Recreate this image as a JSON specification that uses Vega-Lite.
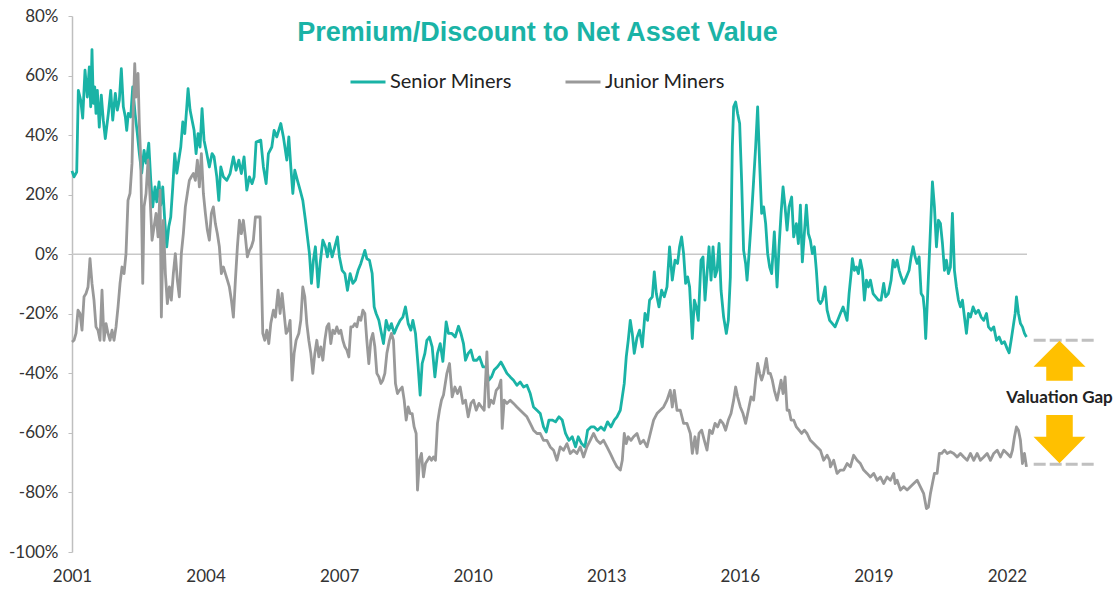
{
"$schema": "https://vega.github.io/schema/vega-lite/v6.json",
"width": 955, "height": 536,
"autosize": {"type": "none"},
"padding": {"left": 72, "top": 16, "right": 90, "bottom": 38},
"background": "white",
"config": {"view": {"stroke": null}, "font": "Lato"},
"title": {"text": "Premium/Discount to Net Asset Value", "font": "Liberation Sans", "fontSize": 27, "fontWeight": "bold", "color": "#1AB3A6", "anchor": "middle", "frame": "group", "dx": -12, "offset": -40},
"datasets": {
"senior": [
{"year":2001.0,"value":28},{"year":2001.045,"value":26},{"year":2001.106,"value":27.6},{"year":2001.142,"value":55},{"year":2001.196,"value":51.7},{"year":2001.24,"value":45.7},{"year":2001.292,"value":61.8},{"year":2001.344,"value":52.8},{"year":2001.389,"value":62.9},{"year":2001.42,"value":49.5},{"year":2001.449,"value":68.7},{"year":2001.479,"value":50.7},{"year":2001.51,"value":56.2},{"year":2001.539,"value":47.3},{"year":2001.569,"value":55},{"year":2001.613,"value":42.7},{"year":2001.658,"value":53.4},{"year":2001.703,"value":45},{"year":2001.748,"value":38.8},{"year":2001.816,"value":47.2},{"year":2001.87,"value":55},{"year":2001.915,"value":45},{"year":2001.973,"value":54},{"year":2002.018,"value":48.4},{"year":2002.063,"value":51.7},{"year":2002.108,"value":62.3},{"year":2002.153,"value":49.5},{"year":2002.198,"value":46.1},{"year":2002.229,"value":41.6},{"year":2002.265,"value":47.3},{"year":2002.319,"value":46.1},{"year":2002.364,"value":56.2},{"year":2002.416,"value":47.3},{"year":2002.467,"value":40.6},{"year":2002.512,"value":33.9},{"year":2002.566,"value":27.2},{"year":2002.618,"value":34.9},{"year":2002.663,"value":30.6},{"year":2002.724,"value":37.3},{"year":2002.769,"value":24.8},{"year":2002.813,"value":15.9},{"year":2002.865,"value":22.6},{"year":2002.903,"value":17.6},{"year":2002.955,"value":24.3},{"year":2002.993,"value":16.5},{"year":2003.038,"value":22.6},{"year":2003.083,"value":11.4},{"year":2003.128,"value":2.5},{"year":2003.173,"value":9.2},{"year":2003.218,"value":12.5},{"year":2003.263,"value":22.6},{"year":2003.308,"value":33.8},{"year":2003.353,"value":27.2},{"year":2003.398,"value":31.6},{"year":2003.443,"value":36},{"year":2003.488,"value":44.4},{"year":2003.533,"value":40.5},{"year":2003.578,"value":49.5},{"year":2003.607,"value":55.6},{"year":2003.652,"value":48.4},{"year":2003.697,"value":45},{"year":2003.742,"value":41.6},{"year":2003.787,"value":33.8},{"year":2003.831,"value":40.5},{"year":2003.876,"value":36},{"year":2003.921,"value":48.9},{"year":2003.966,"value":38.3},{"year":2004.027,"value":33.8},{"year":2004.085,"value":29.3},{"year":2004.146,"value":33.8},{"year":2004.191,"value":32.7},{"year":2004.252,"value":26},{"year":2004.297,"value":18.1},{"year":2004.342,"value":29.3},{"year":2004.4,"value":26},{"year":2004.476,"value":24.8},{"year":2004.551,"value":27.1},{"year":2004.625,"value":32.7},{"year":2004.685,"value":28.2},{"year":2004.746,"value":31.6},{"year":2004.804,"value":27.1},{"year":2004.865,"value":32.7},{"year":2004.926,"value":21.5},{"year":2004.984,"value":26},{"year":2005.045,"value":23.7},{"year":2005.09,"value":26},{"year":2005.135,"value":37.7},{"year":2005.24,"value":38.3},{"year":2005.299,"value":29.3},{"year":2005.36,"value":23.7},{"year":2005.411,"value":33.8},{"year":2005.488,"value":36},{"year":2005.539,"value":41.6},{"year":2005.6,"value":39.4},{"year":2005.69,"value":43.9},{"year":2005.748,"value":39.4},{"year":2005.825,"value":31.6},{"year":2005.87,"value":39.4},{"year":2005.915,"value":29.3},{"year":2005.96,"value":20.4},{"year":2006.004,"value":28.2},{"year":2006.063,"value":24.8},{"year":2006.124,"value":21.5},{"year":2006.184,"value":18.1},{"year":2006.243,"value":11.4},{"year":2006.288,"value":5.8},{"year":2006.333,"value":0.2},{"year":2006.378,"value":-9.8},{"year":2006.422,"value":-2},{"year":2006.467,"value":2.5},{"year":2006.528,"value":-11},{"year":2006.573,"value":-3.1},{"year":2006.634,"value":4.7},{"year":2006.692,"value":2.5},{"year":2006.737,"value":-0.9},{"year":2006.782,"value":3.6},{"year":2006.843,"value":-0.9},{"year":2006.903,"value":2.5},{"year":2006.962,"value":5.8},{"year":2007.007,"value":-0.9},{"year":2007.067,"value":-5.4},{"year":2007.128,"value":-6.5},{"year":2007.187,"value":-12.1},{"year":2007.247,"value":-6.5},{"year":2007.308,"value":-9.8},{"year":2007.366,"value":-8.7},{"year":2007.427,"value":-5.4},{"year":2007.488,"value":-3.1},{"year":2007.533,"value":-0.9},{"year":2007.578,"value":1.3},{"year":2007.622,"value":-1.5},{"year":2007.681,"value":-2},{"year":2007.742,"value":-6.5},{"year":2007.787,"value":-17.7},{"year":2007.831,"value":-19.9},{"year":2007.892,"value":-22.2},{"year":2007.951,"value":-26.6},{"year":2007.996,"value":-30},{"year":2008.056,"value":-22.2},{"year":2008.117,"value":-25.5},{"year":2008.175,"value":-23.3},{"year":2008.236,"value":-26.6},{"year":2008.297,"value":-24.4},{"year":2008.371,"value":-22.2},{"year":2008.431,"value":-21.1},{"year":2008.49,"value":-17.7},{"year":2008.551,"value":-23.3},{"year":2008.611,"value":-25.5},{"year":2008.656,"value":-22.2},{"year":2008.715,"value":-26.6},{"year":2008.775,"value":-37.8},{"year":2008.82,"value":-47.3},{"year":2008.865,"value":-36.7},{"year":2008.926,"value":-33.3},{"year":2008.971,"value":-28.9},{"year":2009.029,"value":-27.8},{"year":2009.09,"value":-31.1},{"year":2009.151,"value":-41.2},{"year":2009.209,"value":-33.3},{"year":2009.27,"value":-30},{"year":2009.33,"value":-36},{"year":2009.404,"value":-22.7},{"year":2009.456,"value":-26.6},{"year":2009.533,"value":-26.6},{"year":2009.607,"value":-27.8},{"year":2009.681,"value":-24.2},{"year":2009.735,"value":-26.6},{"year":2009.793,"value":-30},{"year":2009.838,"value":-35.6},{"year":2009.899,"value":-33.3},{"year":2009.96,"value":-32.2},{"year":2010.018,"value":-35.6},{"year":2010.094,"value":-35.6},{"year":2010.153,"value":-34.5},{"year":2010.229,"value":-37.8},{"year":2010.303,"value":-37.8},{"year":2010.364,"value":-42.3},{"year":2010.422,"value":-41.2},{"year":2010.483,"value":-38.9},{"year":2010.557,"value":-37.8},{"year":2010.634,"value":-36.2},{"year":2010.692,"value":-37.8},{"year":2010.769,"value":-40},{"year":2010.843,"value":-41.2},{"year":2010.917,"value":-42.3},{"year":2010.993,"value":-44},{"year":2011.067,"value":-42.9},{"year":2011.142,"value":-44.6},{"year":2011.218,"value":-44},{"year":2011.292,"value":-46.8},{"year":2011.366,"value":-51.3},{"year":2011.443,"value":-52.4},{"year":2011.517,"value":-53.5},{"year":2011.591,"value":-58},{"year":2011.652,"value":-59.7},{"year":2011.712,"value":-55.7},{"year":2011.787,"value":-55.7},{"year":2011.861,"value":-56.3},{"year":2011.937,"value":-54.6},{"year":2012.011,"value":-55.7},{"year":2012.085,"value":-60.2},{"year":2012.162,"value":-62.5},{"year":2012.236,"value":-61.3},{"year":2012.31,"value":-64.7},{"year":2012.371,"value":-61.3},{"year":2012.445,"value":-63.6},{"year":2012.521,"value":-64.7},{"year":2012.58,"value":-59.1},{"year":2012.656,"value":-58},{"year":2012.73,"value":-58},{"year":2012.804,"value":-59.1},{"year":2012.881,"value":-58},{"year":2012.955,"value":-59.1},{"year":2013.029,"value":-56.3},{"year":2013.106,"value":-58},{"year":2013.18,"value":-55.7},{"year":2013.24,"value":-54.6},{"year":2013.315,"value":-52.4},{"year":2013.36,"value":-47.9},{"year":2013.404,"value":-43.4},{"year":2013.449,"value":-34.5},{"year":2013.494,"value":-28.9},{"year":2013.539,"value":-22.2},{"year":2013.584,"value":-26.6},{"year":2013.629,"value":-33.3},{"year":2013.69,"value":-28},{"year":2013.748,"value":-25.5},{"year":2013.809,"value":-31.1},{"year":2013.87,"value":-19.9},{"year":2013.928,"value":-22.2},{"year":2013.973,"value":-15.4},{"year":2014.034,"value":-14.3},{"year":2014.079,"value":-5.9},{"year":2014.124,"value":-13.2},{"year":2014.184,"value":-17.7},{"year":2014.243,"value":-12.1},{"year":2014.303,"value":-14.3},{"year":2014.364,"value":-11},{"year":2014.422,"value":2.5},{"year":2014.483,"value":-8.7},{"year":2014.544,"value":-2},{"year":2014.602,"value":-3.1},{"year":2014.647,"value":2.5},{"year":2014.692,"value":5.8},{"year":2014.737,"value":0.2},{"year":2014.782,"value":-9.8},{"year":2014.827,"value":-7.6},{"year":2014.872,"value":-11},{"year":2014.933,"value":-28.3},{"year":2014.978,"value":-15.4},{"year":2015.022,"value":-17.7},{"year":2015.067,"value":-22.2},{"year":2015.128,"value":-2},{"year":2015.173,"value":-0.9},{"year":2015.218,"value":-15.4},{"year":2015.263,"value":-6.5},{"year":2015.308,"value":2.5},{"year":2015.353,"value":-8.7},{"year":2015.398,"value":2.5},{"year":2015.443,"value":-7.6},{"year":2015.488,"value":-5.4},{"year":2015.533,"value":3.6},{"year":2015.578,"value":-12.1},{"year":2015.636,"value":-21.1},{"year":2015.697,"value":-26.6},{"year":2015.742,"value":-22.2},{"year":2015.787,"value":-7.6},{"year":2015.831,"value":36},{"year":2015.861,"value":49.5},{"year":2015.906,"value":51.1},{"year":2015.951,"value":47.2},{"year":2015.996,"value":43.9},{"year":2016.04,"value":24.8},{"year":2016.085,"value":1.3},{"year":2016.13,"value":-3.1},{"year":2016.162,"value":-8.7},{"year":2016.207,"value":0.2},{"year":2016.252,"value":10.3},{"year":2016.31,"value":24.8},{"year":2016.355,"value":36},{"year":2016.4,"value":49.5},{"year":2016.445,"value":30.5},{"year":2016.49,"value":13.7},{"year":2016.535,"value":15.9},{"year":2016.58,"value":10.3},{"year":2016.625,"value":0.2},{"year":2016.67,"value":-4.3},{"year":2016.715,"value":-6.5},{"year":2016.775,"value":7.5},{"year":2016.836,"value":-11},{"year":2016.881,"value":2.5},{"year":2016.926,"value":13.7},{"year":2016.971,"value":22.6},{"year":2017.016,"value":15.9},{"year":2017.061,"value":8.1},{"year":2017.106,"value":15.9},{"year":2017.164,"value":19.2},{"year":2017.209,"value":5.8},{"year":2017.27,"value":10.3},{"year":2017.315,"value":3.6},{"year":2017.36,"value":16.5},{"year":2017.404,"value":-2.6},{"year":2017.449,"value":6.9},{"year":2017.494,"value":16.5},{"year":2017.539,"value":6.9},{"year":2017.584,"value":4.7},{"year":2017.629,"value":0.2},{"year":2017.674,"value":2.5},{"year":2017.719,"value":-5.4},{"year":2017.764,"value":-15.4},{"year":2017.809,"value":-16.6},{"year":2017.854,"value":-15.4},{"year":2017.915,"value":-11},{"year":2017.96,"value":-18.8},{"year":2018.017,"value":-22.2},{"year":2018.079,"value":-23.3},{"year":2018.139,"value":-24.4},{"year":2018.198,"value":-22.2},{"year":2018.258,"value":-19.9},{"year":2018.319,"value":-17.7},{"year":2018.364,"value":-19.9},{"year":2018.409,"value":-22.2},{"year":2018.454,"value":-13.2},{"year":2018.499,"value":-6.5},{"year":2018.528,"value":-1.5},{"year":2018.573,"value":-5.4},{"year":2018.618,"value":-4.3},{"year":2018.663,"value":-6.5},{"year":2018.708,"value":-2},{"year":2018.753,"value":-5.4},{"year":2018.798,"value":-15.4},{"year":2018.843,"value":-8.7},{"year":2018.888,"value":-11},{"year":2018.933,"value":-8.7},{"year":2018.993,"value":-13.2},{"year":2019.052,"value":-14.3},{"year":2019.112,"value":-15.4},{"year":2019.173,"value":-15.4},{"year":2019.231,"value":-9.8},{"year":2019.276,"value":-14.3},{"year":2019.337,"value":-13.2},{"year":2019.398,"value":-8.7},{"year":2019.443,"value":-2},{"year":2019.488,"value":-4.3},{"year":2019.533,"value":-2},{"year":2019.578,"value":-5.4},{"year":2019.622,"value":-7.6},{"year":2019.681,"value":-9.8},{"year":2019.742,"value":-7.6},{"year":2019.802,"value":-5.4},{"year":2019.847,"value":-0.9},{"year":2019.892,"value":2.5},{"year":2019.937,"value":-0.9},{"year":2019.982,"value":-3.1},{"year":2020.027,"value":-0.9},{"year":2020.072,"value":-13.2},{"year":2020.117,"value":-14.3},{"year":2020.146,"value":-18.8},{"year":2020.175,"value":-28.3},{"year":2020.22,"value":-13.2},{"year":2020.265,"value":2.5},{"year":2020.326,"value":24.3},{"year":2020.371,"value":15.9},{"year":2020.416,"value":2.5},{"year":2020.461,"value":11.4},{"year":2020.506,"value":10.3},{"year":2020.551,"value":3.6},{"year":2020.596,"value":-5.4},{"year":2020.64,"value":-2},{"year":2020.685,"value":-6.5},{"year":2020.73,"value":-4.3},{"year":2020.775,"value":13.7},{"year":2020.82,"value":-5.4},{"year":2020.865,"value":-11},{"year":2020.91,"value":-15.4},{"year":2020.955,"value":-17.7},{"year":2021.0,"value":-15.4},{"year":2021.045,"value":-21.1},{"year":2021.09,"value":-26.6},{"year":2021.135,"value":-19.9},{"year":2021.18,"value":-21.1},{"year":2021.24,"value":-17.7},{"year":2021.299,"value":-19.9},{"year":2021.36,"value":-18.8},{"year":2021.42,"value":-21.1},{"year":2021.479,"value":-22.2},{"year":2021.54,"value":-19.9},{"year":2021.584,"value":-24.4},{"year":2021.645,"value":-25.5},{"year":2021.703,"value":-24.4},{"year":2021.764,"value":-28.9},{"year":2021.825,"value":-27.8},{"year":2021.883,"value":-30},{"year":2021.944,"value":-29.4},{"year":2022.004,"value":-31.7},{"year":2022.049,"value":-33.1},{"year":2022.094,"value":-28.9},{"year":2022.139,"value":-24.4},{"year":2022.184,"value":-19.9},{"year":2022.213,"value":-14.3},{"year":2022.258,"value":-19.9},{"year":2022.303,"value":-23.3},{"year":2022.348,"value":-24.4},{"year":2022.393,"value":-26.6},{"year":2022.438,"value":-27.8}
],
"junior": [
{"year":2001.0,"value":-29.5},{"year":2001.045,"value":-28.9},{"year":2001.09,"value":-26.6},{"year":2001.135,"value":-18.8},{"year":2001.18,"value":-19.9},{"year":2001.225,"value":-25.5},{"year":2001.27,"value":-14.3},{"year":2001.315,"value":-13.2},{"year":2001.36,"value":-11},{"year":2001.404,"value":-1.5},{"year":2001.449,"value":-9.8},{"year":2001.494,"value":-15.4},{"year":2001.539,"value":-24.4},{"year":2001.584,"value":-25.5},{"year":2001.629,"value":-28.9},{"year":2001.674,"value":-12.1},{"year":2001.719,"value":-28.9},{"year":2001.764,"value":-23.3},{"year":2001.809,"value":-26.6},{"year":2001.854,"value":-28.9},{"year":2001.899,"value":-25.5},{"year":2001.944,"value":-28.9},{"year":2001.989,"value":-24.4},{"year":2002.034,"value":-17.7},{"year":2002.079,"value":-9.8},{"year":2002.124,"value":-4.3},{"year":2002.169,"value":-6.5},{"year":2002.213,"value":0.2},{"year":2002.258,"value":18.1},{"year":2002.303,"value":20.4},{"year":2002.348,"value":30.5},{"year":2002.378,"value":49.5},{"year":2002.409,"value":64},{"year":2002.438,"value":52.8},{"year":2002.483,"value":60.7},{"year":2002.512,"value":43.9},{"year":2002.544,"value":31.6},{"year":2002.589,"value":-9.8},{"year":2002.618,"value":15.9},{"year":2002.663,"value":20.4},{"year":2002.708,"value":31.6},{"year":2002.753,"value":19.2},{"year":2002.798,"value":4.7},{"year":2002.843,"value":9.2},{"year":2002.888,"value":13.7},{"year":2002.933,"value":5.8},{"year":2002.978,"value":21.5},{"year":2003.007,"value":-21.1},{"year":2003.052,"value":11.4},{"year":2003.097,"value":-6.5},{"year":2003.142,"value":-16.6},{"year":2003.187,"value":-11},{"year":2003.231,"value":-15.4},{"year":2003.276,"value":-6.5},{"year":2003.321,"value":0.2},{"year":2003.366,"value":-8.7},{"year":2003.411,"value":-14.3},{"year":2003.456,"value":0.2},{"year":2003.501,"value":6.9},{"year":2003.546,"value":15.9},{"year":2003.591,"value":20.4},{"year":2003.636,"value":24.8},{"year":2003.681,"value":26},{"year":2003.726,"value":27.1},{"year":2003.771,"value":24.8},{"year":2003.816,"value":31.6},{"year":2003.861,"value":22.6},{"year":2003.906,"value":33.8},{"year":2003.951,"value":20.4},{"year":2003.996,"value":13.7},{"year":2004.04,"value":8.1},{"year":2004.085,"value":4.7},{"year":2004.13,"value":13.7},{"year":2004.175,"value":15.9},{"year":2004.22,"value":10.3},{"year":2004.265,"value":6.9},{"year":2004.31,"value":2.5},{"year":2004.355,"value":-6.5},{"year":2004.4,"value":-4.3},{"year":2004.445,"value":-6.5},{"year":2004.49,"value":-8.7},{"year":2004.535,"value":-11},{"year":2004.58,"value":-15.4},{"year":2004.625,"value":-21.1},{"year":2004.67,"value":-8.7},{"year":2004.715,"value":2.5},{"year":2004.76,"value":11.4},{"year":2004.804,"value":6.9},{"year":2004.849,"value":11.4},{"year":2004.894,"value":5.8},{"year":2004.939,"value":-0.9},{"year":2004.984,"value":1.3},{"year":2005.029,"value":2.5},{"year":2005.074,"value":4.7},{"year":2005.119,"value":12.5},{"year":2005.18,"value":12.5},{"year":2005.225,"value":12.5},{"year":2005.254,"value":-6.5},{"year":2005.285,"value":-26.6},{"year":2005.33,"value":-28.9},{"year":2005.375,"value":-25.5},{"year":2005.42,"value":-30},{"year":2005.465,"value":-23.3},{"year":2005.524,"value":-18.8},{"year":2005.569,"value":-21.1},{"year":2005.629,"value":-12.1},{"year":2005.674,"value":-19.9},{"year":2005.719,"value":-13.2},{"year":2005.764,"value":-19.9},{"year":2005.809,"value":-26.6},{"year":2005.854,"value":-25.5},{"year":2005.899,"value":-22.2},{"year":2005.944,"value":-42.3},{"year":2005.989,"value":-33.3},{"year":2006.034,"value":-28.9},{"year":2006.094,"value":-26.6},{"year":2006.139,"value":-22.2},{"year":2006.184,"value":-11},{"year":2006.229,"value":-14.3},{"year":2006.274,"value":-23.3},{"year":2006.319,"value":-28.9},{"year":2006.364,"value":-33.3},{"year":2006.409,"value":-40},{"year":2006.454,"value":-33.3},{"year":2006.499,"value":-28.9},{"year":2006.544,"value":-34.5},{"year":2006.589,"value":-31.1},{"year":2006.634,"value":-35.6},{"year":2006.679,"value":-28.9},{"year":2006.724,"value":-24.4},{"year":2006.769,"value":-23.3},{"year":2006.813,"value":-30},{"year":2006.858,"value":-25.5},{"year":2006.903,"value":-26.6},{"year":2006.948,"value":-24.4},{"year":2006.993,"value":-26.6},{"year":2007.038,"value":-25.5},{"year":2007.083,"value":-28.9},{"year":2007.128,"value":-31.1},{"year":2007.173,"value":-32.2},{"year":2007.218,"value":-34.5},{"year":2007.263,"value":-24.4},{"year":2007.308,"value":-24.4},{"year":2007.353,"value":-23.3},{"year":2007.398,"value":-24.4},{"year":2007.443,"value":-21.1},{"year":2007.488,"value":-22.2},{"year":2007.533,"value":-18.8},{"year":2007.578,"value":-19.9},{"year":2007.622,"value":-28.9},{"year":2007.667,"value":-36.7},{"year":2007.712,"value":-28.9},{"year":2007.757,"value":-26.6},{"year":2007.802,"value":-31.1},{"year":2007.847,"value":-40},{"year":2007.892,"value":-41.2},{"year":2007.937,"value":-43.4},{"year":2007.982,"value":-42.3},{"year":2008.027,"value":-40},{"year":2008.072,"value":-33.3},{"year":2008.13,"value":-28.9},{"year":2008.175,"value":-26.6},{"year":2008.22,"value":-28.9},{"year":2008.265,"value":-43.4},{"year":2008.31,"value":-46.8},{"year":2008.355,"value":-45.7},{"year":2008.416,"value":-44.6},{"year":2008.461,"value":-49},{"year":2008.506,"value":-55.7},{"year":2008.551,"value":-51.3},{"year":2008.596,"value":-53.5},{"year":2008.64,"value":-53.5},{"year":2008.685,"value":-58},{"year":2008.73,"value":-60.2},{"year":2008.76,"value":-79.2},{"year":2008.804,"value":-69.2},{"year":2008.849,"value":-66.9},{"year":2008.894,"value":-74.8},{"year":2008.939,"value":-70.3},{"year":2008.984,"value":-69.2},{"year":2009.029,"value":-68.1},{"year":2009.074,"value":-69.2},{"year":2009.119,"value":-68.1},{"year":2009.164,"value":-69.2},{"year":2009.209,"value":-56.8},{"year":2009.254,"value":-52.4},{"year":2009.299,"value":-49},{"year":2009.344,"value":-47.3},{"year":2009.42,"value":-40},{"year":2009.479,"value":-36.7},{"year":2009.539,"value":-47.9},{"year":2009.6,"value":-44.6},{"year":2009.658,"value":-46.8},{"year":2009.719,"value":-44.6},{"year":2009.78,"value":-50.1},{"year":2009.838,"value":-49},{"year":2009.899,"value":-54.6},{"year":2009.96,"value":-50.1},{"year":2010.018,"value":-49},{"year":2010.079,"value":-52.4},{"year":2010.139,"value":-50.1},{"year":2010.198,"value":-51.3},{"year":2010.258,"value":-52.4},{"year":2010.319,"value":-32.8},{"year":2010.364,"value":-51.3},{"year":2010.409,"value":-49},{"year":2010.467,"value":-50.1},{"year":2010.528,"value":-45.7},{"year":2010.589,"value":-44.6},{"year":2010.634,"value":-42.3},{"year":2010.663,"value":-58.5},{"year":2010.708,"value":-49},{"year":2010.769,"value":-50.1},{"year":2010.843,"value":-49},{"year":2010.917,"value":-50.1},{"year":2010.993,"value":-51.3},{"year":2011.067,"value":-52.4},{"year":2011.142,"value":-53.5},{"year":2011.218,"value":-54.6},{"year":2011.292,"value":-56.8},{"year":2011.366,"value":-59.1},{"year":2011.443,"value":-60.2},{"year":2011.517,"value":-60.2},{"year":2011.591,"value":-62.5},{"year":2011.667,"value":-62.5},{"year":2011.742,"value":-64.7},{"year":2011.816,"value":-65.8},{"year":2011.892,"value":-69.2},{"year":2011.966,"value":-64.7},{"year":2012.041,"value":-65.8},{"year":2012.117,"value":-63.6},{"year":2012.191,"value":-66.9},{"year":2012.265,"value":-65.8},{"year":2012.342,"value":-66.9},{"year":2012.416,"value":-64.7},{"year":2012.49,"value":-68.1},{"year":2012.566,"value":-64.7},{"year":2012.64,"value":-62.5},{"year":2012.715,"value":-60.2},{"year":2012.791,"value":-62.5},{"year":2012.865,"value":-63.6},{"year":2012.939,"value":-62.5},{"year":2013.016,"value":-64.7},{"year":2013.09,"value":-66.9},{"year":2013.164,"value":-69.2},{"year":2013.24,"value":-71.4},{"year":2013.315,"value":-72.5},{"year":2013.36,"value":-69.2},{"year":2013.404,"value":-60.2},{"year":2013.449,"value":-63.6},{"year":2013.494,"value":-61.3},{"year":2013.555,"value":-62.5},{"year":2013.613,"value":-61.3},{"year":2013.69,"value":-60.2},{"year":2013.764,"value":-63.6},{"year":2013.838,"value":-62.5},{"year":2013.915,"value":-64.7},{"year":2013.989,"value":-60.2},{"year":2014.063,"value":-55.7},{"year":2014.139,"value":-53.5},{"year":2014.213,"value":-52.4},{"year":2014.288,"value":-51.3},{"year":2014.364,"value":-49},{"year":2014.438,"value":-45.7},{"year":2014.483,"value":-51.3},{"year":2014.528,"value":-45.7},{"year":2014.589,"value":-52.4},{"year":2014.663,"value":-52.4},{"year":2014.737,"value":-56.8},{"year":2014.813,"value":-56.8},{"year":2014.888,"value":-60.2},{"year":2014.933,"value":-66.9},{"year":2014.993,"value":-61.3},{"year":2015.038,"value":-66.9},{"year":2015.083,"value":-60.2},{"year":2015.142,"value":-59.1},{"year":2015.202,"value":-62.5},{"year":2015.263,"value":-65.8},{"year":2015.321,"value":-59.1},{"year":2015.382,"value":-60.2},{"year":2015.443,"value":-56.8},{"year":2015.501,"value":-58},{"year":2015.562,"value":-55.7},{"year":2015.622,"value":-56.8},{"year":2015.681,"value":-59.1},{"year":2015.742,"value":-55.7},{"year":2015.802,"value":-53.5},{"year":2015.861,"value":-49},{"year":2015.906,"value":-44.6},{"year":2015.951,"value":-47.9},{"year":2016.011,"value":-51.3},{"year":2016.072,"value":-53.5},{"year":2016.13,"value":-56.8},{"year":2016.191,"value":-52.4},{"year":2016.252,"value":-47.9},{"year":2016.31,"value":-49},{"year":2016.355,"value":-42.3},{"year":2016.4,"value":-36.7},{"year":2016.445,"value":-40},{"year":2016.49,"value":-42.3},{"year":2016.535,"value":-40},{"year":2016.596,"value":-35},{"year":2016.64,"value":-40},{"year":2016.685,"value":-40},{"year":2016.73,"value":-42.3},{"year":2016.775,"value":-45.7},{"year":2016.836,"value":-49},{"year":2016.881,"value":-45.7},{"year":2016.926,"value":-42.3},{"year":2016.971,"value":-46.8},{"year":2017.016,"value":-41.2},{"year":2017.061,"value":-52.4},{"year":2017.106,"value":-52.4},{"year":2017.151,"value":-55.7},{"year":2017.209,"value":-55.7},{"year":2017.27,"value":-58},{"year":2017.33,"value":-59.1},{"year":2017.389,"value":-60.2},{"year":2017.449,"value":-59.1},{"year":2017.51,"value":-60.2},{"year":2017.584,"value":-62.5},{"year":2017.658,"value":-63.6},{"year":2017.734,"value":-64.7},{"year":2017.809,"value":-65.8},{"year":2017.883,"value":-69.2},{"year":2017.96,"value":-67.5},{"year":2018.017,"value":-69.2},{"year":2018.034,"value":-71.4},{"year":2018.108,"value":-69.2},{"year":2018.184,"value":-73.6},{"year":2018.258,"value":-72.5},{"year":2018.333,"value":-72.5},{"year":2018.409,"value":-70.3},{"year":2018.483,"value":-71.4},{"year":2018.557,"value":-67.5},{"year":2018.634,"value":-69.2},{"year":2018.708,"value":-70.3},{"year":2018.782,"value":-72.5},{"year":2018.858,"value":-73.6},{"year":2018.933,"value":-74.8},{"year":2019.007,"value":-73.6},{"year":2019.083,"value":-75.9},{"year":2019.157,"value":-74.8},{"year":2019.231,"value":-77},{"year":2019.307,"value":-74.8},{"year":2019.382,"value":-75.9},{"year":2019.456,"value":-73.6},{"year":2019.488,"value":-77},{"year":2019.533,"value":-75.9},{"year":2019.607,"value":-79.2},{"year":2019.681,"value":-78.1},{"year":2019.757,"value":-79.2},{"year":2019.831,"value":-78.1},{"year":2019.906,"value":-77},{"year":2019.982,"value":-75.9},{"year":2020.056,"value":-78.1},{"year":2020.13,"value":-80.4},{"year":2020.191,"value":-85.4},{"year":2020.236,"value":-84.9},{"year":2020.281,"value":-80.4},{"year":2020.326,"value":-77},{"year":2020.371,"value":-73.6},{"year":2020.431,"value":-73.6},{"year":2020.481,"value":-66.9},{"year":2020.535,"value":-66.9},{"year":2020.596,"value":-65.8},{"year":2020.656,"value":-66.9},{"year":2020.73,"value":-66.3},{"year":2020.804,"value":-66.9},{"year":2020.881,"value":-68.1},{"year":2020.955,"value":-66.9},{"year":2021.029,"value":-68.1},{"year":2021.106,"value":-69.2},{"year":2021.18,"value":-66.9},{"year":2021.254,"value":-69.2},{"year":2021.33,"value":-66.9},{"year":2021.404,"value":-69.2},{"year":2021.479,"value":-68.1},{"year":2021.555,"value":-66.9},{"year":2021.629,"value":-69.2},{"year":2021.703,"value":-66.9},{"year":2021.78,"value":-65.8},{"year":2021.854,"value":-68.1},{"year":2021.928,"value":-65.8},{"year":2022.004,"value":-66.9},{"year":2022.079,"value":-68.1},{"year":2022.124,"value":-65.8},{"year":2022.169,"value":-61.3},{"year":2022.213,"value":-58},{"year":2022.258,"value":-59.1},{"year":2022.303,"value":-62.5},{"year":2022.348,"value":-70.3},{"year":2022.393,"value":-66.9},{"year":2022.438,"value":-71.4}
]
},
"layer": [
{"data": {"values": [{}]}, "mark": {"type": "rule", "color": "#C8C8C8", "strokeWidth": 1.5}, "encoding": {"y": {"datum": 0, "type": "quantitative"}}},
{"data": {"name": "senior"}, "mark": {"type": "line", "strokeWidth": 2.8, "strokeJoin": "round"},
 "encoding": {
  "x": {"field": "year", "type": "quantitative", "scale": {"domain": [2001, 2022.45], "nice": false, "zero": false},
        "axis": {"title": null, "values": [2001,2004,2007,2010,2013,2016,2019,2022], "format": "d", "grid": false, "domain": false, "ticks": false, "labelFont": "Lato", "labelFontSize": 17, "labelColor": "#333333", "labelPadding": 16, "labelFlush": false}},
  "y": {"field": "value", "type": "quantitative", "scale": {"domain": [-100, 80], "nice": false, "zero": false},
        "axis": {"title": null, "values": [-100,-80,-60,-40,-20,0,20,40,60,80], "labelExpr": "datum.value + '%'", "grid": false, "domainColor": "#BFBFBF", "domainWidth": 1.5, "tickColor": "#BFBFBF", "tickSize": 4, "labelFont": "Lato", "labelFontSize": 17, "labelColor": "#333333", "labelPadding": 10}},
  "color": {"datum": "Senior Miners", "type": "nominal", "scale": {"domain": ["Senior Miners", "Junior Miners"], "range": ["#1AB3A6", "#999999"]},
        "legend": {"orient": "none", "legendX": 277, "legendY": 47, "direction": "horizontal", "title": null, "symbolType": "stroke", "symbolSize": 1225, "symbolStrokeWidth": 3, "labelFont": "Lato", "labelFontSize": 20, "labelColor": "#222222", "columnPadding": 47, "labelOffset": 3, "padding": 0}}
 }},
{"data": {"name": "junior"}, "mark": {"type": "line", "strokeWidth": 2.8, "strokeJoin": "round"},
 "encoding": {
  "x": {"field": "year", "type": "quantitative"},
  "y": {"field": "value", "type": "quantitative"},
  "color": {"datum": "Junior Miners", "type": "nominal"}
 }},
{"data": {"values": [{}]}, "mark": {"type": "rule", "color": "#C0C0C0", "strokeWidth": 3, "strokeDash": [12, 4]},
 "encoding": {"x": {"datum": 2022.6, "type": "quantitative"}, "x2": {"datum": 2024.03}, "y": {"datum": -28.9, "type": "quantitative"}}},
{"data": {"values": [{}]}, "mark": {"type": "rule", "color": "#C0C0C0", "strokeWidth": 3, "strokeDash": [12, 4]},
 "encoding": {"x": {"datum": 2022.6, "type": "quantitative"}, "x2": {"datum": 2024.03}, "y": {"datum": -70.5, "type": "quantitative"}}},
{"data": {"values": [{}]}, "mark": {"type": "point", "filled": true, "opacity": 1, "color": "#FFC000", "strokeWidth": 0, "size": 2704, "shape": "M0,-0.77 L1,0.23 L0.51,0.23 L0.51,0.77 L-0.51,0.77 L-0.51,0.23 L-1,0.23 Z"},
 "encoding": {"x": {"datum": 2023.18, "type": "quantitative"}, "y": {"datum": -35.8, "type": "quantitative"}}},
{"data": {"values": [{}]}, "mark": {"type": "point", "filled": true, "opacity": 1, "color": "#FFC000", "strokeWidth": 0, "size": 2704, "shape": "M-0.51,-0.93 L0.51,-0.93 L0.51,-0.09 L1,-0.09 L0,0.93 L-1,-0.09 L-0.51,-0.09 Z"},
 "encoding": {"x": {"datum": 2023.18, "type": "quantitative"}, "y": {"datum": -62.1, "type": "quantitative"}}},
{"data": {"values": [{"label": "Valuation Gap"}]}, "mark": {"type": "text", "font": "Lato", "fontWeight": "bold", "fontSize": 17, "color": "#222222", "align": "center", "baseline": "middle"},
 "encoding": {"x": {"datum": 2023.18, "type": "quantitative"}, "y": {"datum": -48.4, "type": "quantitative"}, "text": {"field": "label"}}}
]
}
